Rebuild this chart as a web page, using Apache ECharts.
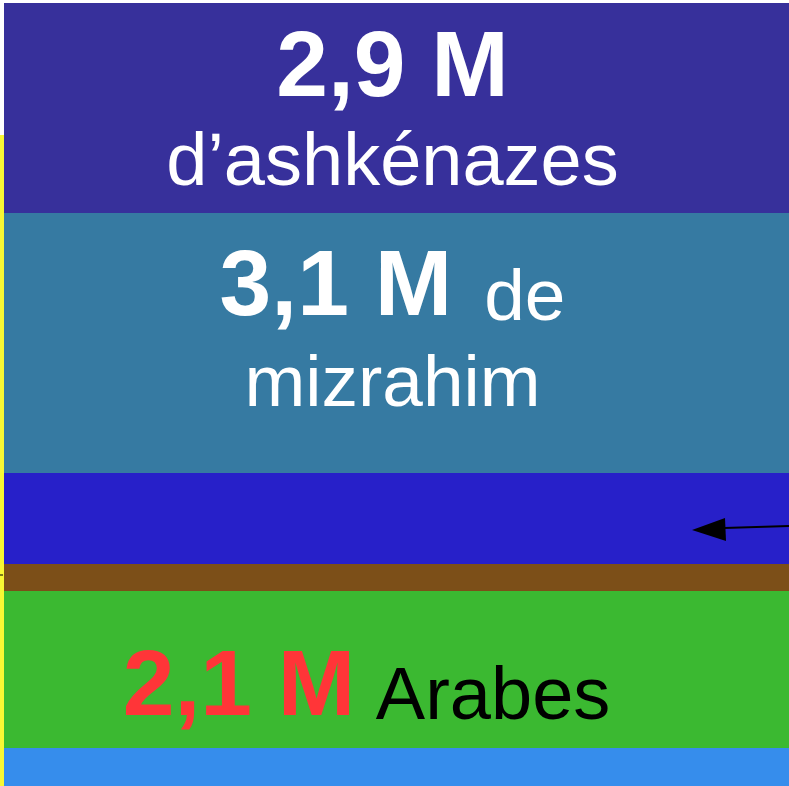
<!DOCTYPE html>
<html>
<head>
<meta charset="utf-8">
<script src="https://cdn.jsdelivr.net/npm/echarts@6/dist/echarts.min.js"></script>
<style>
  html, body { margin: 0; padding: 0; background: #fff; }
  #chart { width: 789px; height: 786px; }
</style>
</head>
<body>
<div id="chart"></div>
<script>
// données (hauteurs des bandes, de bas en haut)
const categories = ['Israël'];
const segmentNames = ['autres', 'Arabes', 'limite', 'autres juifs', 'mizrahim', 'ashkénazes'];
const segmentValues = [38, 157, 27, 91, 260, 210];
const edgeValue = [651];
const segmentColors = ['#368dec', '#3bb931', '#7c4f18', '#2720c9', '#367aa2', '#37309b'];

const labels = {
  'ashkénazes': {
    show: true,
    position: 'inside',
    offset: [-4, 10],
    formatter: '{big|2,9 M}\n{small|d’ashkénazes}',
    rich: {
      big: { fontSize: 93, fontWeight: 'bold', color: '#fff', lineHeight: 94 },
      small: { fontSize: 74, color: '#fff', lineHeight: 96 }
    }
  },
  'mizrahim': {
    show: true,
    position: 'inside',
    offset: [-4, -4],
    formatter: '{big|3,1 M}{mid|de}\n{small|mizrahim}',
    rich: {
      big: { fontSize: 93, fontWeight: 'bold', color: '#fff', lineHeight: 94, verticalAlign: 'bottom' },
      mid: { fontSize: 73, color: '#fff', lineHeight: 79, verticalAlign: 'bottom', padding: [0, 0, 0, 32] },
      small: { fontSize: 73, color: '#fff', lineHeight: 100 }
    }
  },
  'Arabes': {
    show: true,
    position: 'inside',
    offset: [-30, 19],
    formatter: '{big|2,1 M}{mid| Arabes}',
    rich: {
      big: { fontSize: 93, fontWeight: 'bold', color: '#ff3538', lineHeight: 94, verticalAlign: 'bottom' },
      mid: { fontSize: 74, color: '#000', lineHeight: 80, verticalAlign: 'bottom' }
    }
  }
};

const chart = echarts.init(document.getElementById('chart'));

const series = [{
  name: 'bord',
  type: 'bar',
  stack: 'bord',
  barWidth: 4,
  barGap: 0,
  itemStyle: { color: '#f8f834' },
  data: edgeValue
}];
segmentNames.forEach(function (name, i) {
  series.push({
    name: name,
    type: 'bar',
    stack: 'total',
    barWidth: 785,
    barGap: 0,
    itemStyle: { color: segmentColors[i] },
    label: labels[name] || { show: false },
    data: [segmentValues[i]]
  });
});

chart.setOption({
  animation: false,
  textStyle: { fontFamily: 'Liberation Sans' },
  grid: { left: 0, right: 0, top: 3, bottom: 0 },
  xAxis: { type: 'category', data: categories, show: false },
  yAxis: { type: 'value', min: 0, max: 783, show: false },
  series: series,
  graphic: [
    {
      type: 'line',
      z: 100,
      shape: { x1: 789, y1: 526, x2: 724, y2: 528 },
      style: { stroke: '#000', lineWidth: 2 }
    },
    {
      type: 'polygon',
      z: 100,
      shape: { points: [[692, 530], [725, 518], [726, 541]] },
      style: { fill: '#000' }
    },
    {
      type: 'line',
      z: 100,
      shape: { x1: 0, y1: 575, x2: 3, y2: 575 },
      style: { stroke: '#000', lineWidth: 1 }
    }
  ]
});
</script>
</body>
</html>
